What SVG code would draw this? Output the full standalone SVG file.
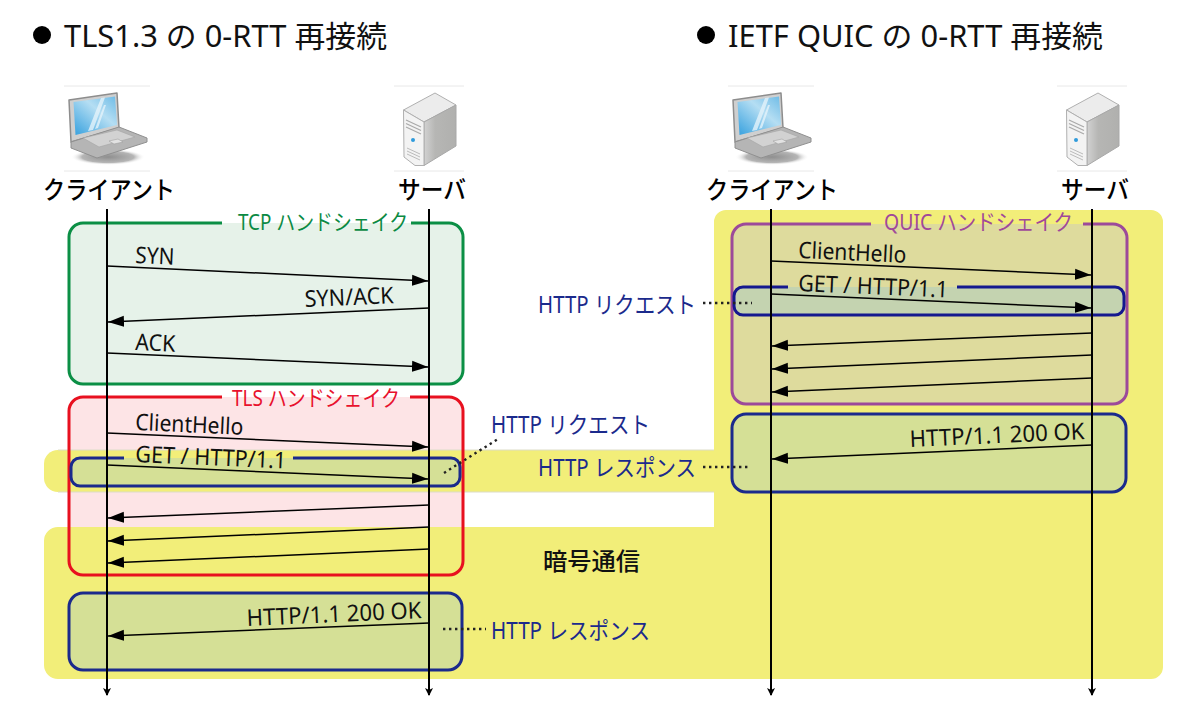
<svg xmlns="http://www.w3.org/2000/svg" width="1200" height="725" viewBox="0 0 1200 725">
<style>
text{font-family:"Noto Sans","Noto Sans CJK JP",sans-serif;}
.title{font-size:30px;fill:#111;}
.head{font-family:"Noto Sans CJK JP","Noto Sans",sans-serif;font-size:25px;font-weight:500;fill:#000;}
.msg{font-size:23px;fill:#111;}
.note{font-size:23px;fill:#1b2a8c;}
.grp{font-size:22px;}
.life{stroke:#000;stroke-width:2;fill:none;marker-end:url(#down);}
.arr{stroke:#000;stroke-width:1.5;fill:none;marker-end:url(#head);}
.dots{stroke:#222;stroke-width:2.4;fill:none;stroke-dasharray:2.4 3.6;}
.box{stroke-width:3;}
.rule{stroke:#e8e8e8;stroke-width:1;}
</style>
<defs>
<marker id="head" markerUnits="userSpaceOnUse" markerWidth="18" markerHeight="12" refX="16" refY="6" orient="auto"><path d="M0 .5L16 6L0 11.5Z" fill="#000"/></marker>
<marker id="down" markerUnits="userSpaceOnUse" markerWidth="10" markerHeight="10" refX="7" refY="5" orient="auto"><path d="M0 1L8 5L0 9L2 5Z" fill="#000"/></marker>
<linearGradient id="scr" x1="0" y1="1" x2="1" y2="0"><stop offset="0" stop-color="#35a0de"/><stop offset=".6" stop-color="#b5def3"/><stop offset="1" stop-color="#6dbbe6"/></linearGradient>
<linearGradient id="side" x1="0" y1="0" x2="1" y2="0"><stop offset="0" stop-color="#d2d2d2"/><stop offset=".35" stop-color="#b6b6b4"/><stop offset="1" stop-color="#b0b0ae"/></linearGradient>
<radialGradient id="sh"><stop offset="0" stop-color="#8f8f8f"/><stop offset=".7" stop-color="#b5b5b5"/><stop offset="1" stop-color="#fff" stop-opacity="0"/></radialGradient>
<g id="laptop">
<path class="rule" d="M64 86H150M64 171H150"/>
<ellipse cx="108" cy="157" rx="37" ry="8" fill="url(#sh)"/>
<path d="M69 100L117 93L119 128L71 142Z" fill="#cfcfcf" stroke="#8d8d8d" stroke-width="1.500" stroke-linejoin="round"/>
<path d="M73.500 102L115 96.500L117 125L75.500 135Z" fill="url(#scr)"/>
<path d="M88 131L101 98L105 97.500L93 130ZM95 129L104 105L106 105L98 128Z" fill="#e4f3fa" opacity=".8"/>
<path d="M71 142L119 127L147 138V142L97 158L71 148Z" fill="#b5b5b5" stroke="#909090" stroke-linejoin="round"/>
<path d="M83 138L117 130L135 137L99 147Z" fill="#d2d2d2" stroke="#a5a5a5" stroke-width=".6"/>
<path d="M109 141L118 139L123 142L114 144Z" fill="#e2e2e2" stroke="#999" stroke-width=".5"/>
</g>
<g id="server">
<path class="rule" d="M394 86H464M394 171H464"/>
<path d="M403.500 110L435 93L456 105L424 122Z" fill="#ececec" stroke="#b0b0b0" stroke-linejoin="round"/>
<path d="M424 122L456 105V146L424 165.500Z" fill="url(#side)" stroke="#a8a8a8" stroke-linejoin="round"/>
<path d="M403.500 110L424 122V165.500H415L404 157Z" fill="#f3f3f3" stroke="#b0b0b0" stroke-linejoin="round"/>
<path d="M406 120L421 127M406 123.500L421 130.500M406 127L421 134" stroke="#aaa" stroke-width="1.300"/>
<circle cx="413" cy="140" r="2" fill="#2f9bdc"/>
<path d="M407 148L420 154M407 151L420 157M407 154L420 160" stroke="#bbb"/>
</g>
</defs>

<rect width="1200" height="725" fill="#fff"/>

<g id="tcp-box"><path class="box" d="M222 223H83A14 14 0 0 0 69 237V370A14 14 0 0 0 83 384H449A14 14 0 0 0 463 370V237A14 14 0 0 0 449 223H411" fill="#e6f2e9" stroke="#0b8f45"/></g>
<g id="tls-fill"><path d="M83 397H449A14 14 0 0 1 463 411V561A14 14 0 0 1 449 575H83A14 14 0 0 1 69 561V411A14 14 0 0 1 83 397Z" fill="#fde4e6"/></g>

<g id="encrypted-area">
<path d="M58 450H714V492H58A14 14 0 0 1 44 478V464A14 14 0 0 1 58 450Z" fill="#f2ee79"/>
<path d="M58 450H714M58 492H714" stroke="#dcdcc8" stroke-width="1" fill="none"/>
<path d="M58 527H714V222A12 12 0 0 1 726 210H1151A12 12 0 0 1 1163 222V667A12 12 0 0 1 1151 679H58A14 14 0 0 1 44 665V541A14 14 0 0 1 58 527Z" fill="#f2ee79"/>
</g>

<g id="tls-box"><path class="box" d="M222 397H83A14 14 0 0 0 69 411V561A14 14 0 0 0 83 575H449A14 14 0 0 0 463 561V411A14 14 0 0 0 449 397H410" fill="none" stroke="#e8101f"/></g>
<g id="http-request-left"><path class="box" d="M124 458H80A9 9 0 0 0 71 467V477A9 9 0 0 0 80 486H451A9 9 0 0 0 460 477V467A9 9 0 0 0 451 458H293" fill="#d5e096" stroke="#1b2a8c"/></g>
<g id="http-response-left"><rect class="box" x="69" y="593" width="393" height="77" rx="14" fill="#d5e096" stroke="#1b2a8c"/></g>
<g id="quic-box"><path class="box" d="M871 224H746A14 14 0 0 0 732 238V390A14 14 0 0 0 746 404H1113A14 14 0 0 0 1127 390V238A14 14 0 0 0 1113 224H1083" fill="#dedb9d" stroke="#9c4a9a"/></g>
<g id="http-request-right"><path class="box" d="M788 287H743A9 9 0 0 0 734 296V306A9 9 0 0 0 743 315H1115A9 9 0 0 0 1124 306V296A9 9 0 0 0 1115 287H957" fill="#c4d3b0" stroke="#14188f"/></g>
<g id="http-response-right"><rect class="box" x="732" y="414" width="394" height="78" rx="14" fill="#d5e096" stroke="#1b2a8c"/></g>

<g id="client-left"><use href="#laptop"/><text class="head" x="43" y="199" textLength="132" lengthAdjust="spacingAndGlyphs">クライアント</text></g>
<g id="server-left"><use href="#server"/><text class="head" x="398" y="199" textLength="68" lengthAdjust="spacingAndGlyphs">サーバ</text></g>
<g id="client-right"><use href="#laptop" x="664"/><text class="head" x="706" y="199" textLength="132" lengthAdjust="spacingAndGlyphs">クライアント</text></g>
<g id="server-right"><use href="#server" x="663"/><text class="head" x="1061" y="199" textLength="68" lengthAdjust="spacingAndGlyphs">サーバ</text></g>

<g id="connectors">
<path class="life" d="M107 209V695"/>
<path class="life" d="M429 209V695"/>
<path class="life" d="M771 209V695"/>
<path class="life" d="M1092 209V695"/>
<path class="arr" d="M107 266L428 281"/>
<path class="arr" d="M429 308L108 322"/>
<path class="arr" d="M107 353L428 367"/>
<path class="arr" d="M107 433L428 447"/>
<path class="arr" d="M107 465L428 479"/>
<path class="arr" d="M429 505L108 518"/>
<path class="arr" d="M429 527L108 541"/>
<path class="arr" d="M429 549L108 563"/>
<path class="arr" d="M429 623L108 636"/>
<path class="arr" d="M771 261L1091 275"/>
<path class="arr" d="M771 294L1091 308"/>
<path class="arr" d="M1092 333L772 346"/>
<path class="arr" d="M1092 355L772 369"/>
<path class="arr" d="M1092 378L772 392"/>
<path class="arr" d="M1092 445L772 459"/>
<path class="dots" d="M444 473L498 439"/>
<path class="dots" d="M443 629H486"/>
<path class="dots" d="M703 467H751"/>
<path class="dots" d="M703 303H752"/>
</g>

<g id="titles">
<circle cx="42" cy="35" r="9" fill="#000"/>
<text class="title" x="64" y="47" textLength="323" lengthAdjust="spacingAndGlyphs">TLS1.3 の 0-RTT 再接続</text>
<circle cx="706" cy="35" r="9" fill="#000"/>
<text class="title" x="728" y="47" textLength="375" lengthAdjust="spacingAndGlyphs">IETF QUIC の 0-RTT 再接続</text>
</g>

<g id="labels">
<text class="grp" fill="#0b8a43" x="238" y="230" textLength="170" lengthAdjust="spacingAndGlyphs">TCP ハンドシェイク</text>
<text class="grp" fill="#e8112d" x="232" y="406" textLength="168" lengthAdjust="spacingAndGlyphs">TLS ハンドシェイク</text>
<text class="grp" fill="#a0489a" x="884" y="230" textLength="189" lengthAdjust="spacingAndGlyphs">QUIC ハンドシェイク</text>
<text class="msg" x="135" y="263" textLength="39" lengthAdjust="spacingAndGlyphs" transform="rotate(2.600 135 263)">SYN</text>
<text class="msg" x="305" y="307" textLength="89" lengthAdjust="spacingAndGlyphs" transform="rotate(-2.500 305 307)">SYN/ACK</text>
<text class="msg" x="135" y="350" textLength="40" lengthAdjust="spacingAndGlyphs" transform="rotate(2.500 135 350)">ACK</text>
<text class="msg" x="135" y="430" textLength="108" lengthAdjust="spacingAndGlyphs" transform="rotate(2.500 135 430)">ClientHello</text>
<text class="msg" x="135" y="462" textLength="151" lengthAdjust="spacingAndGlyphs" transform="rotate(2.500 135 462)">GET / HTTP/1.1</text>
<text class="msg" x="247" y="626" textLength="175" lengthAdjust="spacingAndGlyphs" transform="rotate(-2.600 247 626)">HTTP/1.1 200 OK</text>
<text class="msg" x="798" y="258" textLength="108" lengthAdjust="spacingAndGlyphs" transform="rotate(2.500 798 258)">ClientHello</text>
<text class="msg" x="798" y="291" textLength="150" lengthAdjust="spacingAndGlyphs" transform="rotate(2.500 798 291)">GET / HTTP/1.1</text>
<text class="msg" x="910" y="447" textLength="175" lengthAdjust="spacingAndGlyphs" transform="rotate(-2.600 910 447)">HTTP/1.1 200 OK</text>
<text class="note" x="491" y="433" textLength="159" lengthAdjust="spacingAndGlyphs">HTTP リクエスト</text>
<text class="note" x="491" y="639" textLength="159" lengthAdjust="spacingAndGlyphs">HTTP レスポンス</text>
<text class="note" x="538" y="313" textLength="158" lengthAdjust="spacingAndGlyphs">HTTP リクエスト</text>
<text class="note" x="538" y="476" textLength="158" lengthAdjust="spacingAndGlyphs">HTTP レスポンス</text>
<text x="543" y="570" font-size="24" font-weight="500" fill="#111" style="font-family:'Noto Sans CJK JP',sans-serif" textLength="97" lengthAdjust="spacingAndGlyphs">暗号通信</text>
</g>
</svg>
